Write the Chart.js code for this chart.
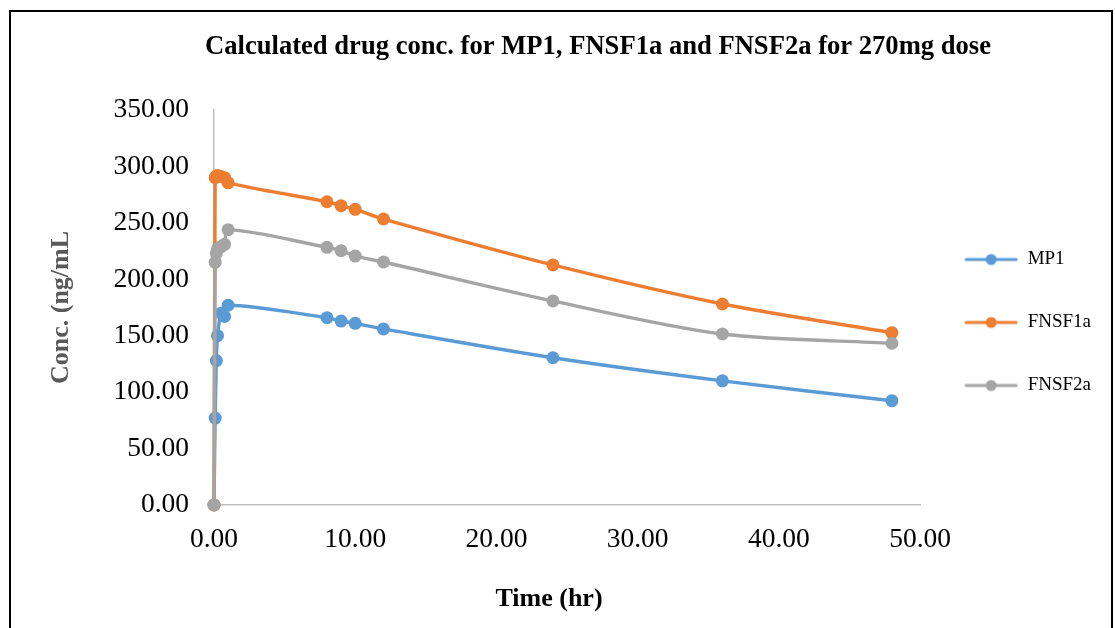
<!DOCTYPE html>
<html lang="en">
<head>
    <meta charset="UTF-8">
    <title>Calculated drug conc. for 270mg dose</title>
    <script src="https://cdn.jsdelivr.net/npm/chart.js"></script>
    <style>
        * { margin: 0; padding: 0; box-sizing: border-box; }
        body { background: #fff; width: 1115px; height: 628px; overflow: hidden; }
        .chart-wrap { position: relative; width: 1115px; height: 628px; }
        /* outer frame of the figure */
        .frame {
            position: absolute;
            left: 9px; top: 10px;
            width: 1104px; height: 700px;
            border: 2px solid #000;
            pointer-events: none;
        }
    </style>
</head>
<body>
<div class="chart-wrap">
    <canvas id="concChart"></canvas>
    <div class="frame"></div>
</div>

<script>
    // sampling times (hr)
    const times = [0, 0.083, 0.167, 0.25, 0.5, 0.75, 1, 8, 9, 10, 12, 24, 36, 48];

    // concentrations (ng/mL)
    const mp1    = [0, 77, 128, 150, 170, 167, 177, 166, 163, 161, 156, 130.5, 110, 92.4];
    const fnsf1a = [0, 290, 291.5, 292, 291, 290, 285.5, 268.7, 265.2, 262, 253.4, 212.7, 178.1, 152.7];
    const fnsf2a = [0, 215, 223, 227, 229, 231, 244, 228.3, 225.3, 220.6, 215.3, 180.8, 151.5, 143.3];

    const seriesNames = ['MP1', 'FNSF1a', 'FNSF2a'];
    const seriesColors = ['#5B9BD5', '#ED7D31', '#A5A5A5'];

    const xTicks = [0, 10, 20, 30, 40, 50];
    const yTicks = [0, 50, 100, 150, 200, 250, 300, 350];

    const chartTitle = 'Calculated drug conc. for MP1, FNSF1a and FNSF2a for 270mg dose';
    const xTitle = 'Time (hr)';
    const yTitle = 'Conc. (ng/mL';

    const serif = "'Liberation Serif', 'Times New Roman', serif";

    function toPoints(values) {
        return values.map((v, i) => ({ x: times[i], y: v }));
    }

    // little line-with-dot sample used as the legend symbol
    function legendSymbol(color) {
        const c = document.createElement('canvas');
        c.width = 54; c.height = 14;
        const g = c.getContext('2d');
        g.strokeStyle = color;
        g.lineWidth = 3;
        g.lineCap = 'round';
        g.beginPath();
        g.moveTo(2, 7); g.lineTo(52, 7);
        g.stroke();
        g.fillStyle = color;
        g.beginPath();
        g.arc(27, 7, 5.5, 0, Math.PI * 2);
        g.fill();
        return c;
    }
    const symbols = seriesColors.map(legendSymbol);

    // chart title and x-axis title, placed like the original sheet
    const headings = {
        id: 'headings',
        afterDraw(chart) {
            const ctx = chart.ctx;
            ctx.save();
            ctx.fillStyle = '#000';
            ctx.textAlign = 'center';
            ctx.textBaseline = 'middle';
            ctx.font = "bold 26.6px " + serif;
            ctx.fillText(chartTitle, 598, 47);
            ctx.font = "bold 26px " + serif;
            ctx.fillText(xTitle, 549, 599);
            ctx.restore();
        }
    };

    const allSeries = [mp1, fnsf1a, fnsf2a];

    new Chart(document.getElementById('concChart'), {
        type: 'line',
        data: {
            datasets: allSeries.map((vals, i) => ({
                label: seriesNames[i],
                data: toPoints(vals),
                borderColor: seriesColors[i],
                backgroundColor: seriesColors[i],
                borderWidth: 3.4,
                pointRadius: 6.5,
                pointBorderWidth: 0,
                pointHoverRadius: 6.5,
                pointStyle: 'circle',
                tension: 0.3,
                fill: false,
                clip: false,
                order: 3 - i
            }))
        },
        options: {
            responsive: true,
            maintainAspectRatio: false,
            animation: false,
            layout: { padding: { top: 110, right: 14, bottom: 0, left: 0 } },
            scales: {
                x: {
                    type: 'linear',
                    min: 0,
                    max: 50,
                    afterBuildTicks: (scale) => { scale.ticks = xTicks.map(v => ({ value: v })); },
                    afterFit: (scale) => { scale.height = 123; },
                    ticks: {
                        padding: 18,
                        color: '#000',
                        font: { family: serif, size: 27.5 },
                        callback: (v) => Number(v).toFixed(2)
                    },
                    grid: { display: false, drawTicks: false },
                    border: { display: true, color: '#BFBFBF', width: 1.5 }
                },
                y: {
                    min: 0,
                    max: 350,
                    afterBuildTicks: (scale) => { scale.ticks = yTicks.map(v => ({ value: v })); },
                    afterFit: (scale) => { scale.width = 214; },
                    ticks: {
                        padding: 25,
                        color: '#000',
                        font: { family: serif, size: 27.5 },
                        callback: (v) => Number(v).toFixed(2)
                    },
                    grid: { display: false, drawTicks: false },
                    border: { display: true, color: '#BFBFBF', width: 1.5 },
                    title: {
                        display: true,
                        text: yTitle,
                        color: '#595959',
                        font: { family: serif, size: 26, weight: 'bold' },
                        padding: { top: 46, bottom: 0 }
                    }
                }
            },
            plugins: {
                title: { display: false },
                tooltip: { enabled: false },
                legend: {
                    position: 'right',
                    fullSize: false,
                    align: 'center',
                    title: { display: true, text: ' ', padding: 0, font: { family: serif, size: 25 } },
                    labels: {
                        usePointStyle: true,
                        pointStyleWidth: 54,
                        padding: 44,
                        color: '#000',
                        font: { family: serif, size: 19 },
                        sort: (a, b) => a.datasetIndex - b.datasetIndex,
                        generateLabels: (chart) => {
                            const items = Chart.defaults.plugins.legend.labels.generateLabels(chart);
                            items.forEach(it => { it.pointStyle = symbols[it.datasetIndex]; });
                            return items;
                        }
                    }
                }
            }
        },
        plugins: [headings]
    });
</script>
</body>
</html>
